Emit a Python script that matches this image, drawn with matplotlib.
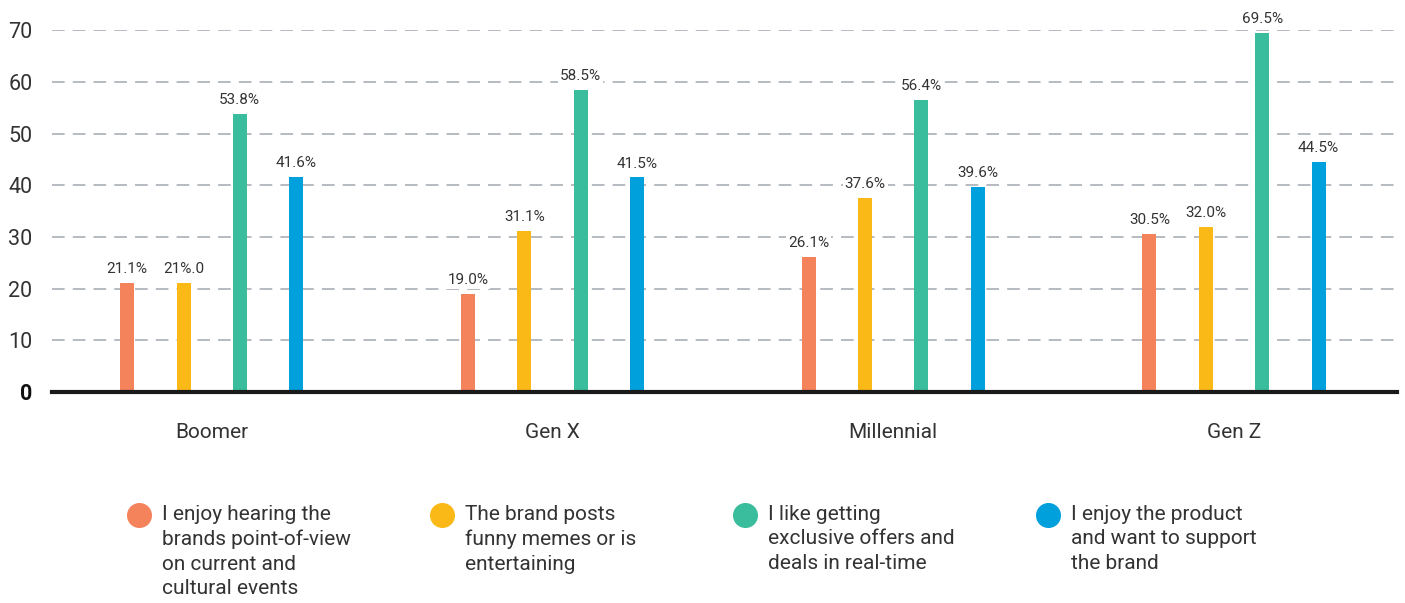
import matplotlib
matplotlib.use("Agg")
import matplotlib.pyplot as plt
import numpy as np
from matplotlib.lines import Line2D

plt.rcParams['font.family'] = ['Roboto', 'DejaVu Sans']

categories = ["Boomer", "Gen X", "Millennial", "Gen Z"]
series_names = [
    "I enjoy hearing the\nbrands point-of-view\non current and\ncultural events",
    "The brand posts\nfunny memes or is\nentertaining",
    "I like getting\nexclusive offers and\ndeals in real-time",
    "I enjoy the product\nand want to support\nthe brand",
]
pov = [21.1, 19.0, 26.1, 30.5]
memes = [21.0, 31.1, 37.6, 32.0]
offers = [53.8, 58.5, 56.4, 69.5]
support = [41.6, 41.5, 39.6, 44.5]
values = [pov, memes, offers, support]
bar_labels = [
    ["21.1%", "19.0%", "26.1%", "30.5%"],
    ["21%.0", "31.1%", "37.6%", "32.0%"],
    ["53.8%", "58.5%", "56.4%", "69.5%"],
    ["41.6%", "41.5%", "39.6%", "44.5%"],
]
colors = ["#F4825B", "#FBB917", "#3ABD9C", "#00A0DC"]
yticks = [0, 10, 20, 30, 40, 50, 60, 70]

fig = plt.figure(figsize=(14.05, 6.03), dpi=100)
ax = fig.add_axes([0.037, 0.350, 0.957, 0.600])

x = np.arange(len(categories))
offsets = [-0.248, -0.082, 0.083, 0.248]
width = 0.041
text_color = "#333333"

for i, (vals, col) in enumerate(zip(values, colors)):
    bars = ax.bar(x + offsets[i], vals, width=width, color=col, zorder=3)
    for b, lab in zip(bars, bar_labels[i]):
        ax.annotate(lab, (b.get_x() + b.get_width() / 2, b.get_height()),
                    xytext=(0, 5), textcoords="offset points",
                    ha="center", va="bottom", fontsize=11, color=text_color,
                    zorder=4, annotation_clip=False,
                    bbox=dict(facecolor="white", edgecolor="none", pad=1.5))

ax.set_xlim(-0.468, 3.477)
ax.set_ylim(0, 70)
ax.set_yticks(yticks)
ax.set_yticklabels([str(t) for t in yticks])
for lab in ax.get_yticklabels():
    lab.set_fontsize(15.5)
    lab.set_color(text_color)
    if lab.get_text() == "0":
        lab.set_fontweight("bold")
        lab.set_color("#111111")
ax.tick_params(axis="y", length=0, pad=14)
ax.set_xticks(x)
ax.set_xticklabels(categories, fontsize=15, color=text_color)
ax.tick_params(axis="x", length=0, pad=22)

ax.yaxis.grid(True, linestyle=(0, (7, 4.5)), color="#B0B4BC", linewidth=1.3, zorder=0)
ax.set_axisbelow(True)
for s in ["top", "right", "left"]:
    ax.spines[s].set_visible(False)
ax.spines["bottom"].set_color("#1a1a1a")
ax.spines["bottom"].set_linewidth(3)
ax.spines["bottom"].set_zorder(5)

# legend
leg_x = [139, 442, 745, 1048]
W, H = 1405, 603
for i in range(4):
    fig.add_artist(Line2D([leg_x[i] / W], [1 - 515 / H], marker="o", markersize=17,
                          color=colors[i], linestyle="none", transform=fig.transFigure))
    fig.text((leg_x[i] + 23) / W, 1 - 505 / H, series_names[i], fontsize=15,
             color=text_color, ha="left", va="top", linespacing=1.36)

fig.savefig("out.png", dpi=100)
